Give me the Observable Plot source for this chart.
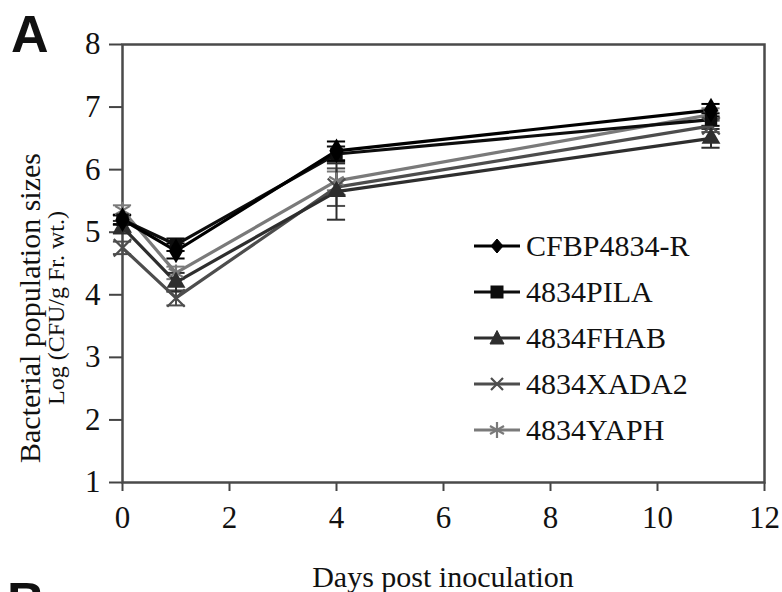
<!DOCTYPE html>
<html>
<head>
<meta charset="utf-8">
<script src="https://cdn.jsdelivr.net/npm/d3@7"></script>
<script src="https://cdn.jsdelivr.net/npm/@observablehq/plot@0.6"></script>
<style>
  html, body { margin: 0; padding: 0; background: #fff; }
  #wrap { position: relative; width: 782px; height: 592px; overflow: hidden; font-family: "Liberation Serif", serif; color: #111; }
  #wrap svg.plot { position: absolute; left: 0; top: 0; }
  #wrap svg.plot text { font-family: "Liberation Serif", serif; }
  .abs { position: absolute; white-space: nowrap; }
  #legend .row { display: flex; align-items: center; height: 46px; font-size: 30px; }
  #legend svg { margin-right: 6px; }
</style>
</head>
<body>
<div id="wrap"></div>
<script>
// ---- data ----
const days = [0, 1, 4, 11];
const seriesNames = ["CFBP4834-R", "4834PILA", "4834FHAB", "4834XADA2", "4834YAPH"];
const cfbpVals  = [5.20, 4.70, 6.30, 6.95];
const cfbpErr   = [0.08, 0.12, 0.15, 0.10];
const pilaVals  = [5.20, 4.80, 6.25, 6.80];
const pilaErr   = [0.07, 0.10, 0.12, 0.10];
const fhabVals  = [5.08, 4.20, 5.65, 6.50];
const fhabErr   = [0.10, 0.15, 0.45, 0.15];
const xadaVals  = [4.75, 3.95, 5.72, 6.70];
const xadaErr   = [0.10, 0.12, 0.30, 0.10];
const yaphVals  = [5.35, 4.35, 5.82, 6.88];
const yaphErr   = [0.08, 0.10, 0.15, 0.10];
const xTicks = [0, 2, 4, 6, 8, 10, 12];
const yTicks = [1, 2, 3, 4, 5, 6, 7, 8];

const colors  = ["#000000", "#0d0d0d", "#2e2e2e", "#4d4d4d", "#7a7a7a"];
const symbols = ["diamond", "square", "triangle", "times", "asterisk"];
const filled  = [true, true, true, false, false];

const valsList = [cfbpVals, pilaVals, fhabVals, xadaVals, yaphVals];
const errList  = [cfbpErr, pilaErr, fhabErr, xadaErr, yaphErr];

const rows = [];
seriesNames.forEach((s, i) => {
  days.forEach((d, j) => {
    rows.push({series: s, idx: i, day: d, v: valsList[i][j], e: errList[i][j]});
  });
});
// draw order: lighter first, black last
const order = [4, 3, 2, 1, 0];
const capHalf = 0.17;

const marks = [];
for (const i of order) {
  const data = rows.filter(r => r.idx === i);
  marks.push(Plot.ruleX(data, {x: "day", y1: d => d.v - d.e, y2: d => d.v + d.e, stroke: colors[i], strokeWidth: 2}));
  marks.push(Plot.ruleY(data, {y: d => d.v + d.e, x1: d => d.day - capHalf, x2: d => d.day + capHalf, stroke: colors[i], strokeWidth: 2}));
  marks.push(Plot.ruleY(data, {y: d => d.v - d.e, x1: d => d.day - capHalf, x2: d => d.day + capHalf, stroke: colors[i], strokeWidth: 2}));
}
for (const i of order) {
  const data = rows.filter(r => r.idx === i);
  marks.push(Plot.line(data, {x: "day", y: "v", stroke: colors[i], strokeWidth: 3.2}));
}
for (const i of order) {
  const data = rows.filter(r => r.idx === i);
  if (filled[i]) {
    marks.push(Plot.dot(data, {x: "day", y: "v", symbol: () => symbols[i], fill: colors[i], stroke: "none", r: i === 0 ? 7.5 : 7}));
  } else {
    marks.push(Plot.dot(data, {x: "day", y: "v", symbol: () => symbols[i], stroke: colors[i], strokeWidth: 2.2, r: 8}));
  }
}

const chart = Plot.plot({
  width: 782,
  height: 592,
  marginLeft: 122,
  marginRight: 18,
  marginTop: 44,
  marginBottom: 110,
  style: {fontFamily: "'Liberation Serif', serif", fontSize: "31px", color: "#111", background: "transparent", overflow: "visible"},
  x: {domain: [0, 12]},
  y: {domain: [1, 8]},
  symbol: {type: "identity"},
  marks: [
    Plot.axisX({ticks: xTicks, tickFormat: "d", tickSize: 9, tickPadding: 14, label: null, stroke: "#444", strokeWidth: 2, fontSize: 31, fontFamily: "Liberation Serif"}),
    Plot.axisY({ticks: yTicks, tickFormat: "d", tickSize: 13, tickPadding: 9, label: null, stroke: "#444", strokeWidth: 2, fontSize: 31, fontFamily: "Liberation Serif"}),
    Plot.frame({stroke: "#4a4a4a", strokeWidth: 2.5}),
    ...marks
  ]
});
chart.classList.add("plot");
const wrap = document.getElementById("wrap");
wrap.appendChild(chart);

function addText(txt, css) {
  const el = document.createElement("div");
  el.className = "abs";
  el.textContent = txt;
  Object.assign(el.style, css);
  wrap.appendChild(el);
  return el;
}
addText("A", {left: "11px", top: "8px", lineHeight: "1", fontFamily: "'Liberation Sans', Arial, sans-serif", fontWeight: "bold", fontSize: "52px"});
addText("B", {left: "7px", top: "575px", lineHeight: "1", fontFamily: "'Liberation Sans', Arial, sans-serif", fontWeight: "bold", fontSize: "52px"});
addText("Days post inoculation", {left: "443px", top: "562px", lineHeight: "1", transform: "translateX(-50%)", fontSize: "30px"});

// y title (two lines, rotated)
const yt = document.createElement("div");
yt.className = "abs";
Object.assign(yt.style, {left: "43px", top: "308px", transform: "translate(-50%, -50%) rotate(-90deg)", textAlign: "center", lineHeight: "27px"});
yt.innerHTML = '<div style="font-size:30px">Bacterial population sizes</div><div style="font-size:24px">Log (CFU/g Fr. wt.)</div>';
wrap.appendChild(yt);

// legend
const leg = document.createElement("div");
leg.id = "legend";
leg.className = "abs";
Object.assign(leg.style, {left: "474px", top: "223px"});
const symPaths = {
  diamond: '<path d="M23,3 L29,10 L23,17 L17,10 Z"/>',
  square: '<rect x="17" y="4" width="12" height="12"/>',
  triangle: '<path d="M23,2.5 L30,16 L16,16 Z"/>',
  times: '<path d="M17,4 L29,16 M29,4 L17,16" fill="none" stroke-width="2.2"/>',
  asterisk: '<path d="M23,2 L23,18 M16,6 L30,14 M30,6 L16,14" fill="none" stroke-width="2.2"/>'
};
seriesNames.forEach((s, i) => {
  const row = document.createElement("div");
  row.className = "row";
  const c = colors[i];
  row.innerHTML = `<svg width="46" height="20" style="overflow:visible"><line x1="0" y1="10" x2="46" y2="10" stroke="${c}" stroke-width="3.2"/><g fill="${c}" stroke="${c}">${symPaths[symbols[i]]}</g></svg><span>${s}</span>`;
  leg.appendChild(row);
});
wrap.appendChild(leg);
</script>
</body>
</html>
